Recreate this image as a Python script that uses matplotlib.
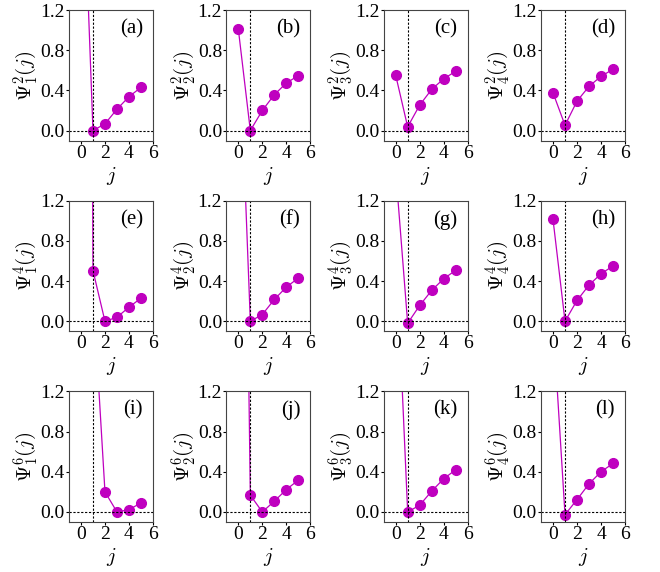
import numpy as np
import matplotlib
matplotlib.use("Agg")
import matplotlib.pyplot as plt

plt.rcParams['font.family'] = ['Liberation Serif', 'DejaVu Serif']
plt.rcParams['mathtext.fontset'] = 'cm'

# site index
j = [0, 1, 2, 3, 4, 5]

# Psi_n^k(j) (values above 1.2 are clipped by the axes)
psi_a = [3.2, 0.0, 0.067, 0.213, 0.337, 0.43]
psi_b = [1.01, 0.0, 0.20, 0.357, 0.473, 0.547]
psi_c = [0.552, 0.037, 0.253, 0.41, 0.515, 0.59]
psi_d = [0.376, 0.053, 0.293, 0.44, 0.54, 0.61]
psi_e = [30.0, 0.505, 0.0, 0.04, 0.14, 0.23]
psi_f = [3.1, 0.0, 0.067, 0.217, 0.34, 0.43]
psi_g = [1.5, -0.02, 0.157, 0.307, 0.423, 0.507]
psi_h = [1.013, 0.0, 0.207, 0.36, 0.473, 0.55]
psi_i = [2.5, 2.2, 0.2, 0.0, 0.023, 0.09]
psi_j = [9.0, 0.167, 0.0, 0.107, 0.223, 0.317]
psi_k = [2.7, 0.0, 0.067, 0.207, 0.33, 0.42]
psi_l = [1.9, -0.027, 0.123, 0.28, 0.40, 0.483]

series = [psi_a, psi_b, psi_c, psi_d,
          psi_e, psi_f, psi_g, psi_h,
          psi_i, psi_j, psi_k, psi_l]
panel_tags = ['(a)', '(b)', '(c)', '(d)', '(e)', '(f)',
              '(g)', '(h)', '(i)', '(j)', '(k)', '(l)']
powers = [2, 4, 6]
modes = [1, 2, 3, 4]

fig, axes = plt.subplots(3, 4, figsize=(6.6, 5.72), dpi=100)
fig.subplots_adjust(left=0.1045, right=0.947, top=0.9825, bottom=0.0874,
                    wspace=0.873, hspace=0.46)

for idx, ax in enumerate(axes.flat):
    r, c = divmod(idx, 4)
    ax.plot(j, series[idx], '-o', color='m', lw=0.9, ms=7)
    ax.axvline(1, color='k', ls=(0, (2, 1.5)), lw=0.8)
    ax.axhline(0, color='k', ls=(0, (2, 1.5)), lw=0.8)
    ax.set_xlim(-1, 6)
    ax.set_ylim(-0.1, 1.2)
    ax.set_xticks([0, 2, 4, 6])
    ax.set_yticks([0.0, 0.4, 0.8, 1.2])
    ax.set_yticklabels(['0.0', '0.4', '0.8', '1.2'])
    ax.tick_params(labelsize=14, length=2, pad=1)
    for s in ax.spines.values():
        s.set_color('#444444')
    ax.set_xlabel(r'$j$', fontsize=15, labelpad=2)
    ax.set_ylabel(r'$\Psi_{%d}^{%d}(j)$' % (modes[c], powers[r]),
                  fontsize=15, labelpad=0)
    ax.text(0.88, 0.93, panel_tags[idx], transform=ax.transAxes,
            ha='right', va='top', fontsize=15)

fig.savefig('out.png', dpi=100)
